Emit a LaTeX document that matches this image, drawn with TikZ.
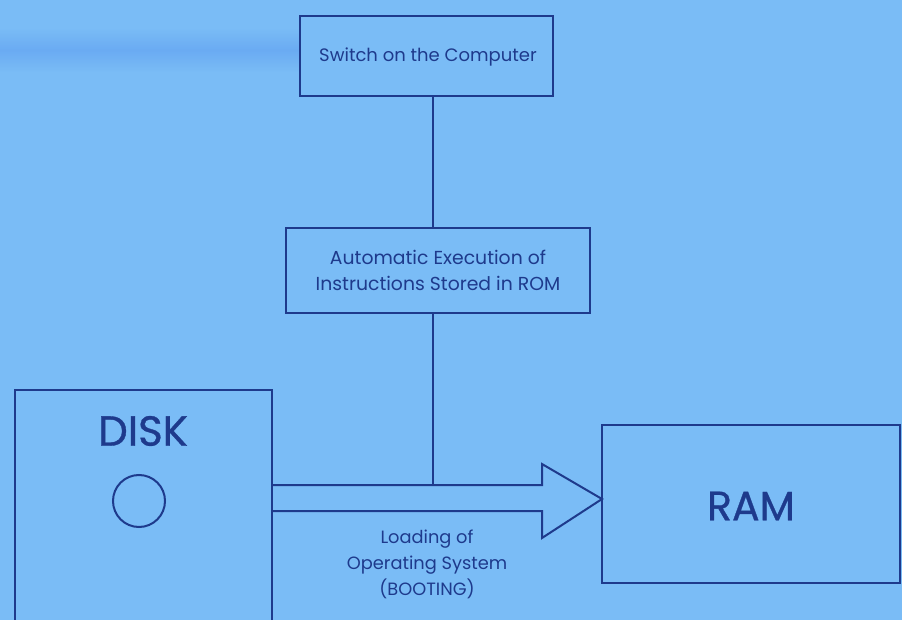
\documentclass[tikz,border=0pt]{standalone}
\usepackage{fontspec}
\setmainfont{Poppins}
\newfontfamily\bigfont[FakeBold=0.8]{Poppins}
\begin{document}
\begin{tikzpicture}[x=1pt,y=-1pt,
  line width=2pt,
  ink/.style={draw=lineblue},
  box/.style={draw=lineblue, line width=2pt},
  txt/.style={text=lineblue, inner sep=0pt, align=center},
]
\definecolor{bgblue}{RGB}{122,188,246}
\definecolor{bandblue}{RGB}{96,160,240}
\definecolor{lineblue}{RGB}{30,58,140}
\useasboundingbox (0,0) rectangle (902,620);
\fill[bgblue] (0,0) rectangle (902,620);
\shade[top color=bgblue, bottom color=bgblue, middle color=bandblue, opacity=0.6] (0,28) rectangle (300,72);

% boxes
\draw[box] (300,16) rectangle (553,96);
\node[txt, font=\fontsize{18}{20}\selectfont] (sw) at (428,57) {Switch on the Computer};
\coordinate (swb) at (433,96);

\draw[box] (286,228) rectangle (590,313);
\node[txt, font=\fontsize{18.8}{26}\selectfont] (rom) at (438,270) {Automatic Execution of\\Instructions Stored in ROM};
\coordinate (romt) at (433,228);
\coordinate (romb) at (433,313);

\draw[box] (15,620) -- (15,390) -- (272,390) -- (272,620);
\node[txt, font=\bigfont\fontsize{42}{44}\selectfont] (disk) at (143,431) {DISK};
\draw[box] (139,501) ellipse (26 and 26);

\draw[box] (602,425) rectangle (900,583);
\node[txt, font=\bigfont\fontsize{41}{44}\selectfont] (ram) at (751,506) {RAM};

% arrow
\coordinate (s1) at (272,485);
\coordinate (s2) at (272,511);
\coordinate (a1) at (542,485);
\coordinate (a2) at (542,511);
\coordinate (shafttop) at (433,485);
\draw[ink] (s1) -- (a1) -- (542,464) -- (602,499) -- (542,538) -- (a2) -- (s2);

\draw[ink] (swb) -- (romt);
\draw[ink] (romb) -- (shafttop);

\node[txt, font=\fontsize{17.8}{26}\selectfont] (boot) at (427,564) {Loading of\\Operating System\\(BOOTING)};
\end{tikzpicture}
\end{document}
